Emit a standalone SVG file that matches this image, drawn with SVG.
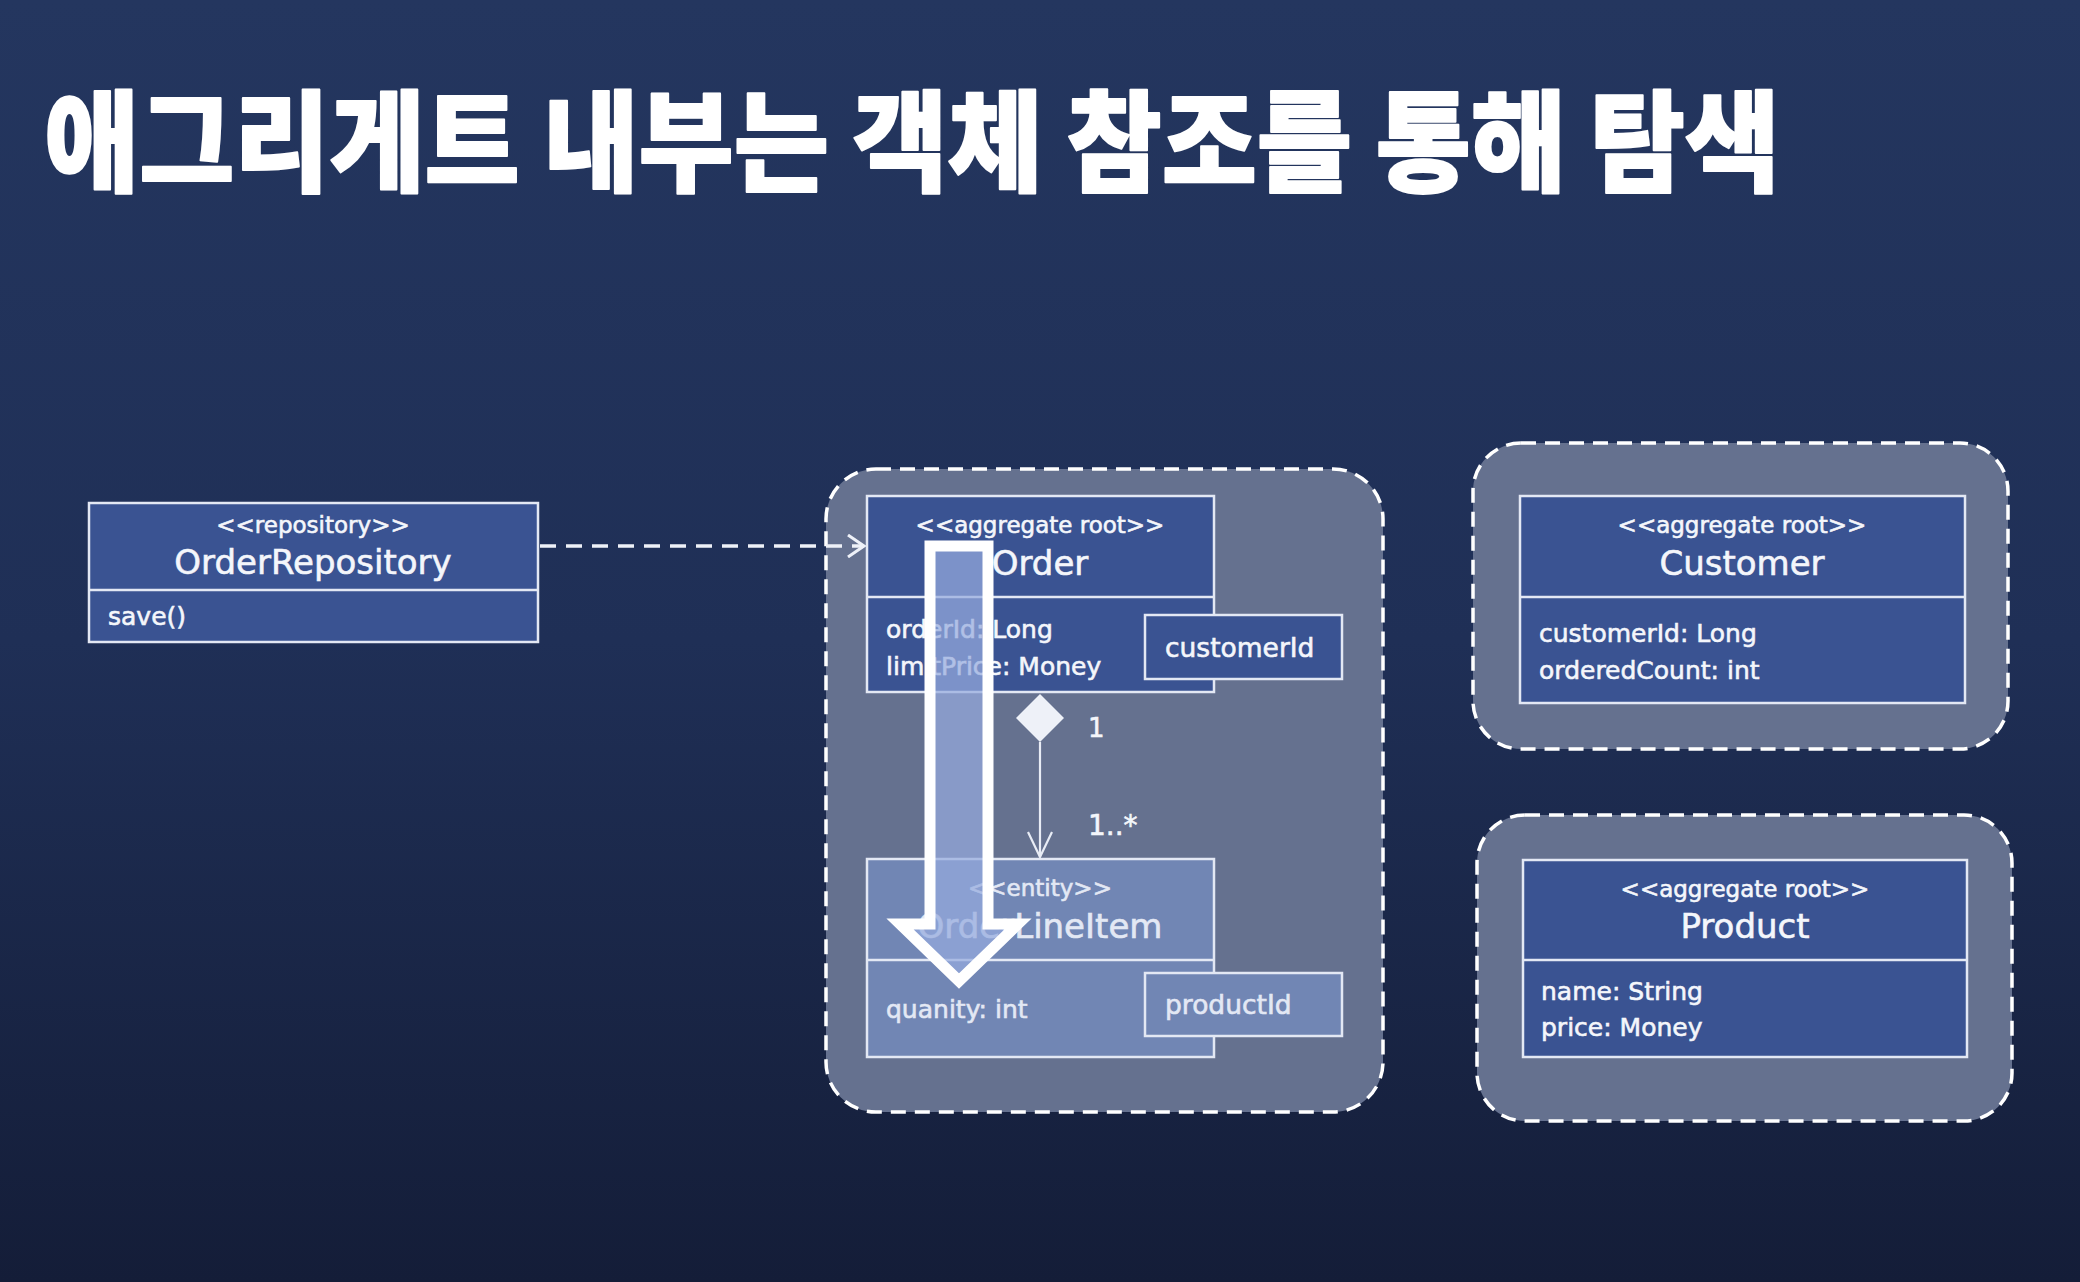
<svg xmlns="http://www.w3.org/2000/svg" width="2080" height="1282" viewBox="0 0 2080 1282">
<defs>
<linearGradient id="bg" x1="0" y1="0" x2="0" y2="1">
<stop offset="0" stop-color="#24365f"/>
<stop offset="0.5" stop-color="#1f2f56"/>
<stop offset="1" stop-color="#141d38"/>
</linearGradient>
<marker id="open" viewBox="0 0 20 24" refX="18" refY="12" markerWidth="20" markerHeight="24" markerUnits="userSpaceOnUse" orient="auto">
<path d="M2,1 L18,12 L2,23" fill="none" stroke="#eef1f8" stroke-width="3"/>
</marker>
<marker id="openThin" viewBox="0 0 28 30" refX="26" refY="15" markerWidth="28" markerHeight="30" markerUnits="userSpaceOnUse" orient="auto">
<path d="M1,3 L26,15 L1,27" fill="none" stroke="#e8ecf5" stroke-width="2.2"/>
</marker>
</defs>
<style>
.cont{fill:#65718f;stroke:#ffffff;stroke-width:3.5;stroke-dasharray:15 9}
.box{fill:#3a5392;stroke:#e3e8f4;stroke-width:2.5}
.lbox{fill:#7186b4;stroke:#e3e8f4;stroke-width:2.5}
.t{font-family:"DejaVu Sans",sans-serif;fill:#f4f6fb;stroke:#f4f6fb;stroke-width:0.6}
.st{font-size:23px;text-anchor:middle}
.nm{font-size:34px;text-anchor:middle}
.at{font-size:25px}
.dim{fill:#e3e8f4;stroke:#e3e8f4}
.title{font-family:"Noto Sans CJK KR",sans-serif;font-weight:900;fill:#ffffff;stroke:#ffffff;stroke-width:2;stroke-linejoin:round}
</style>
<rect x="0" y="0" width="2080" height="1282" fill="url(#bg)"/>
<text class="title" x="44" y="183" font-size="110" textLength="1736" lengthAdjust="spacingAndGlyphs">애그리게트 내부는 객체 참조를 통해 탐색</text>

<g id="order-aggregate">
<rect class="cont" x="826" y="469" width="557" height="643" rx="50"/>
</g>
<g id="customer-aggregate">
<rect class="cont" x="1473" y="443" width="535" height="306" rx="48"/>
</g>
<g id="product-aggregate">
<rect class="cont" x="1477" y="815" width="535" height="306" rx="48"/>
</g>

<g id="order-repository">
<rect class="box" x="89" y="503" width="449" height="139"/>
<line x1="89" y1="590" x2="538" y2="590" stroke="#e3e8f4" stroke-width="2.5"/>
<text class="t st" x="313" y="533">&lt;&lt;repository&gt;&gt;</text>
<text class="t nm" x="313" y="574">OrderRepository</text>
<text class="t at" x="108" y="625">save()</text>
</g>

<g id="order">
<rect class="box" x="867" y="496" width="347" height="196"/>
<line x1="867" y1="597" x2="1214" y2="597" stroke="#e3e8f4" stroke-width="2.5"/>
<text class="t st" x="1040" y="533">&lt;&lt;aggregate root&gt;&gt;</text>
<text class="t nm" x="1040" y="575">Order</text>
<text class="t at" x="886" y="638">orderId: Long</text>
<text class="t at" x="886" y="675">limitPrice: Money</text>
</g>
<g id="customerId-ref">
<rect class="box" x="1145" y="615" width="197" height="64"/>
<text class="t" x="1165" y="657" font-size="26.5">customerId</text>
</g>

<g id="order-line-item">
<rect class="lbox" x="867" y="859" width="347" height="198"/>
<line x1="867" y1="960" x2="1214" y2="960" stroke="#e3e8f4" stroke-width="2.5"/>
<text class="t st dim" x="1040" y="896">&lt;&lt;entity&gt;&gt;</text>
<text class="t nm dim" x="1040" y="938">OrderLineItem</text>
<text class="t at dim" x="886" y="1018">quanity: int</text>
</g>
<g id="productId-ref">
<rect class="lbox" x="1145" y="973" width="197" height="63"/>
<text class="t dim" x="1165" y="1014" font-size="26.5">productId</text>
</g>

<g id="customer">
<rect class="box" x="1520" y="496" width="445" height="207"/>
<line x1="1520" y1="597" x2="1965" y2="597" stroke="#e3e8f4" stroke-width="2.5"/>
<text class="t st" x="1742" y="533">&lt;&lt;aggregate root&gt;&gt;</text>
<text class="t nm" x="1742" y="575">Customer</text>
<text class="t at" x="1539" y="642">customerId: Long</text>
<text class="t at" x="1539" y="679">orderedCount: int</text>
</g>

<g id="product">
<rect class="box" x="1523" y="860" width="444" height="197"/>
<line x1="1523" y1="960" x2="1967" y2="960" stroke="#e3e8f4" stroke-width="2.5"/>
<text class="t st" x="1745" y="897">&lt;&lt;aggregate root&gt;&gt;</text>
<text class="t nm" x="1745" y="938">Product</text>
<text class="t at" x="1541" y="1000">name: String</text>
<text class="t at" x="1541" y="1036">price: Money</text>
</g>

<g id="connectors">
<line x1="540" y1="546" x2="864" y2="546" stroke="#eef1f8" stroke-width="3.5" stroke-dasharray="16 10" marker-end="url(#open)"/>
<polygon points="1040,694 1064,718 1040,742 1016,718" fill="#eef1f8"/>
<line x1="1040" y1="742" x2="1040" y2="857" stroke="#e8ecf5" stroke-width="2.2" marker-end="url(#openThin)"/>
<text class="t" x="1088" y="737" font-size="26">1</text>
<text class="t" x="1088" y="835" font-size="28">1..*</text>
</g>

<g id="navigation-arrow">
<polygon points="930,546 988,546 988,924 1018,924 959,981 900,924 930,924" fill="rgba(150,170,222,0.72)" stroke="#ffffff" stroke-width="11" stroke-linejoin="miter"/>
</g>
</svg>
